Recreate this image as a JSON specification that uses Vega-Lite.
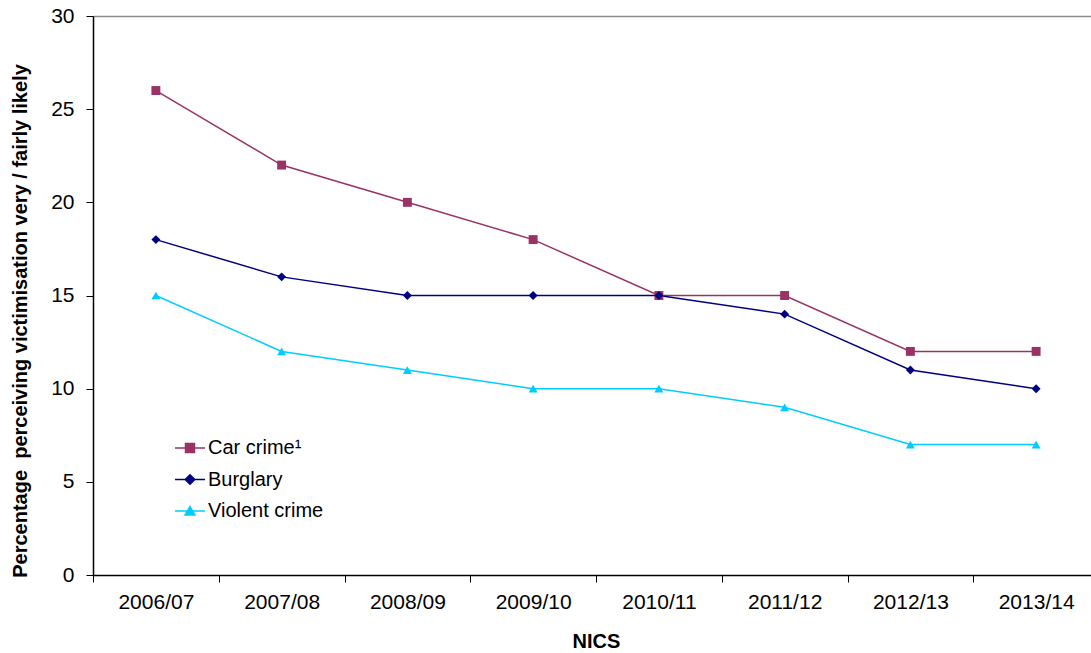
{
  "$schema": "https://vega.github.io/schema/vega-lite/v6.json",
  "autosize": "none",
  "width": 998,
  "height": 559,
  "padding": {"left": 93, "top": 16, "right": 0, "bottom": 78},
  "background": "white",
  "config": {
    "view": {"stroke": null},
    "font": "Liberation Sans",
    "axis": {"labelFont": "Liberation Sans", "titleFont": "Liberation Sans", "labelColor": "#000000", "titleColor": "#000000", "domainColor": "#000000", "tickColor": "#000000"},
    "legend": {"labelFont": "Liberation Sans"}
  },
  "data": {
    "values": [
      {"year": "2006/07", "series": "Car crime¹", "pct": 26},
      {"year": "2007/08", "series": "Car crime¹", "pct": 22},
      {"year": "2008/09", "series": "Car crime¹", "pct": 20},
      {"year": "2009/10", "series": "Car crime¹", "pct": 18},
      {"year": "2010/11", "series": "Car crime¹", "pct": 15},
      {"year": "2011/12", "series": "Car crime¹", "pct": 15},
      {"year": "2012/13", "series": "Car crime¹", "pct": 12},
      {"year": "2013/14", "series": "Car crime¹", "pct": 12},
      {"year": "2006/07", "series": "Burglary", "pct": 18},
      {"year": "2007/08", "series": "Burglary", "pct": 16},
      {"year": "2008/09", "series": "Burglary", "pct": 15},
      {"year": "2009/10", "series": "Burglary", "pct": 15},
      {"year": "2010/11", "series": "Burglary", "pct": 15},
      {"year": "2011/12", "series": "Burglary", "pct": 14},
      {"year": "2012/13", "series": "Burglary", "pct": 11},
      {"year": "2013/14", "series": "Burglary", "pct": 10},
      {"year": "2006/07", "series": "Violent crime", "pct": 15},
      {"year": "2007/08", "series": "Violent crime", "pct": 12},
      {"year": "2008/09", "series": "Violent crime", "pct": 11},
      {"year": "2009/10", "series": "Violent crime", "pct": 10},
      {"year": "2010/11", "series": "Violent crime", "pct": 10},
      {"year": "2011/12", "series": "Violent crime", "pct": 9},
      {"year": "2012/13", "series": "Violent crime", "pct": 7},
      {"year": "2013/14", "series": "Violent crime", "pct": 7}
    ]
  },
  "encoding": {
    "x": {
      "field": "year",
      "type": "ordinal",
      "sort": null,
      "scale": {"type": "band", "paddingInner": 0, "paddingOuter": 0, "range": [0, 1006]},
      "axis": {
        "title": "NICS",
        "titleFontSize": 20,
        "titleFontWeight": "bold",
        "titleBaseline": "middle",
        "titleY": 66,
        "titleX": 503,
        "labelAngle": 0,
        "labelFontSize": 21,
        "labelPadding": 9,
        "tickSize": 7,
        "tickBand": "extent",
        "grid": false,
        "domainWidth": 1.5,
        "tickWidth": 1
      }
    },
    "y": {
      "field": "pct",
      "type": "quantitative",
      "scale": {"domain": [0, 30], "nice": false},
      "axis": {
        "title": "Percentage\u00a0 perceiving victimisation very / fairly likely",
        "titleFontSize": 20,
        "titleFontWeight": "bold",
        "titleAngle": 270,
        "titleAlign": "center",
        "titleBaseline": "middle",
        "titleX": -73,
        "titleY": 304.5,
        "values": [0, 5, 10, 15, 20, 25, 30],
        "labelFontSize": 21,
        "labelPadding": 12,
        "tickSize": 7,
        "domainWidth": 1.5,
        "grid": true,
        "gridColor": "#8c8c8c",
        "gridWidth": 1.5,
        "gridOpacity": {"condition": {"test": "datum.value === 30", "value": 1}, "value": 0}
      }
    },
    "color": {
      "field": "series",
      "type": "nominal",
      "sort": null,
      "scale": {"domain": ["Car crime¹", "Burglary", "Violent crime"], "range": ["#993366", "#000080", "#00ccff"]},
      "legend": null
    }
  },
  "layer": [
    {
      "mark": {"type": "line", "strokeWidth": 1.5},
      "encoding": {
        "color": {
          "field": "series",
          "type": "nominal",
          "sort": null,
          "legend": {
            "title": null,
            "orient": "none",
            "legendX": 81,
            "legendY": 416,
            "padding": 0,
            "rowPadding": 5.5,
            "symbolSize": 900,
            "labelFontSize": 20,
            "labelColor": "#000000",
            "labelOffset": 2,
            "encode": {
              "symbols": {
                "update": {
                  "shape": {"signal": "datum.value === 'Car crime¹' ? 'M-1,0H1M-0.3,-0.3H0.3V0.3H-0.3Z' : datum.value === 'Burglary' ? 'M-1,0H1M0,-0.32L0.32,0L0,0.32L-0.32,0Z' : 'M-1,0H1M0,-0.3L0.33,0.27L-0.33,0.27Z'"},
                  "fill": {"scale": "color", "field": "value"},
                  "stroke": {"scale": "color", "field": "value"},
                  "strokeWidth": {"value": 1.5},
                  "opacity": {"value": 1}
                }
              }
            }
          }
        }
      }
    },
    {
      "transform": [{"filter": "datum.series === 'Car crime¹'"}],
      "mark": {"type": "point", "shape": "square", "filled": true, "opacity": 1, "size": 80}
    },
    {
      "transform": [{"filter": "datum.series === 'Burglary'"}],
      "mark": {"type": "point", "shape": "diamond", "filled": true, "opacity": 1, "size": 80}
    },
    {
      "transform": [{"filter": "datum.series === 'Violent crime'"}],
      "mark": {"type": "point", "shape": "triangle-up", "filled": true, "opacity": 1, "size": 80}
    }
  ]
}
